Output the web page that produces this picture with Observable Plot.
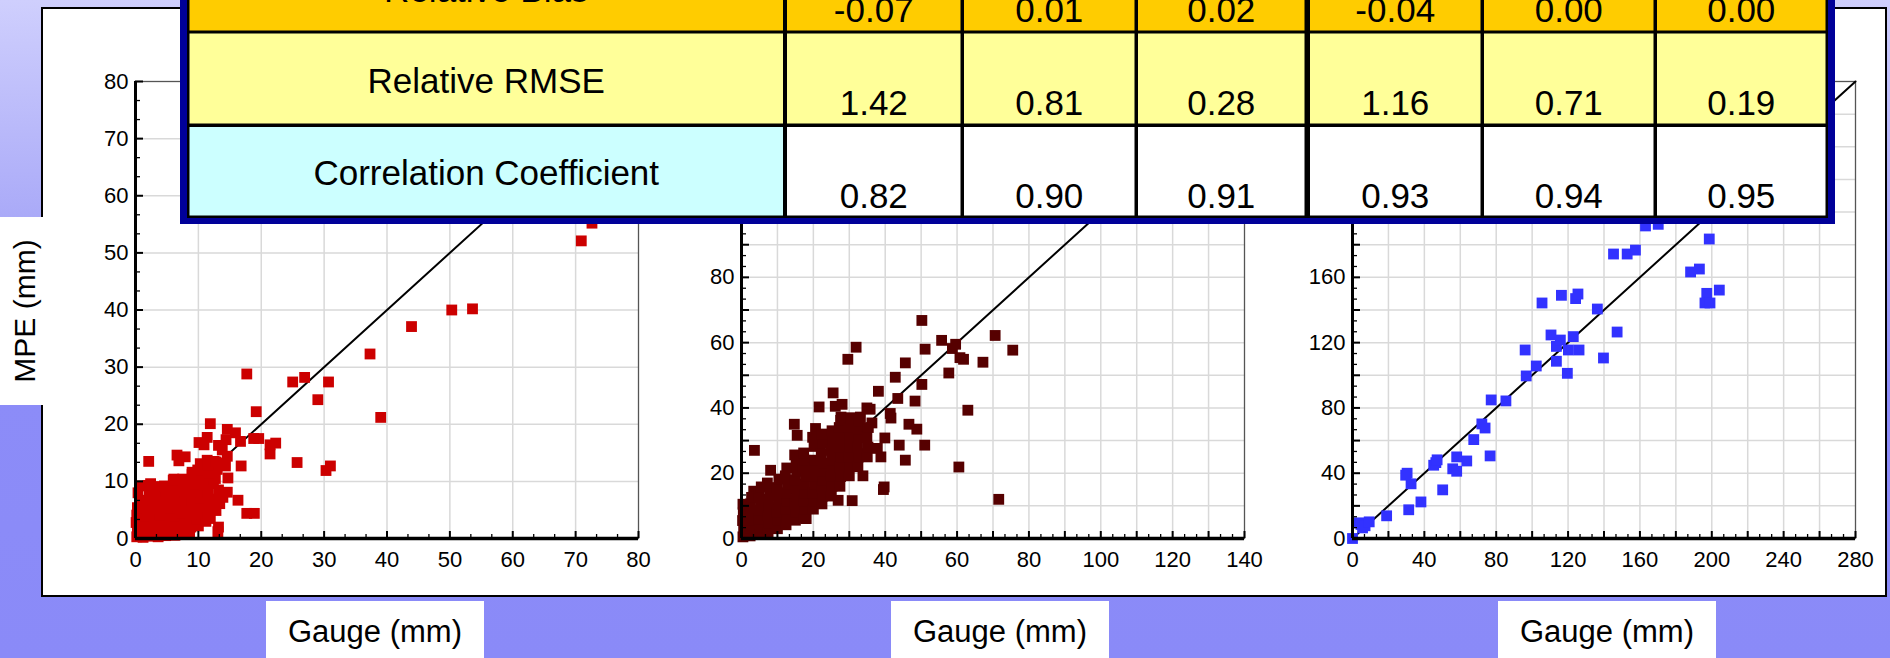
<!DOCTYPE html>
<html>
<head>
<meta charset="utf-8">
<script src="https://cdn.jsdelivr.net/npm/d3@7"></script>
<script src="https://cdn.jsdelivr.net/npm/@observablehq/plot@0.6"></script>
<style>
html,body{margin:0;padding:0;}
body{width:1890px;height:658px;overflow:hidden;font-family:"Liberation Sans",Arial,sans-serif;}
#root{position:relative;width:1890px;height:658px;overflow:hidden;
  background:linear-gradient(180deg,#cfcffd 0%,#aaaaf8 33%,#8c8cf8 60%,#8a8af8 100%);}
.layer{position:absolute;left:0;top:0;}
.plotbox{position:absolute;}
.plotbox svg{display:block;max-width:none;}
</style>
</head>
<body>
<div id="root"></div>
<script>
// ---------------- data ----------------
const statLabels = ["Relative Bias", "Relative RMSE", "Correlation Coefficient"];
const biasValues = ["-0.07", "0.01", "0.02", "-0.04", "0.00", "0.00"];
const rmseValues = ["1.42", "0.81", "0.28", "1.16", "0.71", "0.19"];
const corrValues = ["0.82", "0.90", "0.91", "0.93", "0.94", "0.95"];

const yAxisTitle = "MPE (mm)";
const xAxisTitle = "Gauge (mm)";

const ticks1 = [0, 10, 20, 30, 40, 50, 60, 70, 80];
const ticks2 = [0, 20, 40, 60, 80, 100, 120, 140];
const ticks3 = [0, 40, 80, 120, 160, 200, 240, 280];
const gridSteps = [10, 10, 20];
const pointColors = ["#cc0000", "#560000", "#3232ff"];

// Plot 1: [gauge, MPE]
const points1 = [
  [37.3,32.3],[39,21.2],[43.9,37.1],[50.3,40],[53.6,40.2],[70.9,52.1],[72.6,55.2],
  [17.7,28.8],[25,27.4],[26.9,28.2],[30.7,27.4],[29,24.3],[19.2,22.2],[25.7,13.3],[30.3,11.9],[31,12.7],
  [11.9,20.1],[14.6,19.1],[15.9,18.5],[11.4,17.7],[10.1,16.8],[10.9,16.4],[13.2,16.3],[16.7,17],[18.8,17.5],
  [19.6,17.5],[21.4,16.4],[22.3,16.7],[21.4,14.8],[14.4,17.3],[13.8,15.5],[14.6,14.4],[16.8,12.7],[14.3,12.7],
  [6.6,14.6],[7.9,14.3],[6.9,13.6],[2.1,13.5],[9.9,12],[11.4,13.7],[14.7,10.6],[16.3,6.7],[17.7,4.4],[18.9,4.4],
  [13.2,2],[13.1,1.2],[11.9,3.5],[2.4,9.6],[0.8,9.2],[6.1,10.4],[8.5,10.1],[12.7,10.5],[13.5,7.6],[13.4,6.1],
  [11.9,5],[9.5,2.7],[7.9,1.8],[6.3,0.6],[12.5,13.5],[10.5,12.8],[12,11.5],[9,11.2],
  [0.2,0.3],[1.2,0.2],[2.4,0.4],[3.6,0.3],[4.8,0.5],[6.2,0.6],[7.5,0.8],[8.6,0.9],
  [0.3,1.5],[1.5,1.4],[2.8,1.6],[4.0,1.5],[5.2,1.7],[6.4,1.6],[7.6,1.9],[8.8,2.0],[10.0,2.2],
  [0.1,2.8],[1.3,2.9],[2.5,2.7],[3.8,3.0],[5.1,2.8],[6.3,3.1],[7.4,2.9],[8.7,3.2],[9.8,3.4],[11.2,3.0],
  [0.2,4.1],[1.4,4.0],[2.7,4.3],[3.9,4.1],[5.0,4.2],[6.2,4.0],[7.5,4.4],[8.8,4.2],[10.1,4.6],[11.5,4.3],[12.8,4.9],
  [0.3,5.4],[1.6,5.5],[2.9,5.3],[4.2,5.6],[5.5,5.4],[6.7,5.7],[8.0,5.5],[9.2,5.8],[10.6,5.6],[12.1,5.9],
  [1.1,6.7],[2.4,6.8],[3.7,6.6],[5.0,6.9],[6.3,6.7],[7.6,7.0],[8.9,6.8],[10.3,7.1],[11.8,6.9],[13.9,7.2],
  [0.4,8.0],[2.2,8.1],[3.5,7.9],[4.9,8.2],[6.2,8.0],[7.4,8.3],[8.7,8.1],[10.1,8.4],[11.5,8.2],[13.2,8.5],[14.6,8.1],
  [2.0,9.3],[3.4,9.1],[4.6,9.2],[5.8,9.0],[7.0,9.4],[8.4,9.2],[9.6,9.5],[11.0,9.3],[12.4,9.6],
  [6.0,10.2],[7.5,10.4],[9.2,10.6],[10.8,10.3],[12.0,10.9],
  [9.0,11.6],[10.4,11.9],[11.7,11.5],[13.0,12.1],
  [10.3,13.1],[11.5,12.9],[12.8,13.4],[14.2,13.2]
];

// Plot 2: [gauge, MPE]
const points2 = [
  [50.2,66.8],[55.7,60.7],[59.6,59.5],[58.7,58.2],[51.1,58],[70.6,62.2],[75.5,57.7],[60.8,55.4],[61.8,54.9],
  [67.2,54],[57.7,50.7],[45.6,53.8],[42.8,49.4],[50.2,47.2],[38.1,45.1],[43.5,42.9],[48.3,42.1],[63,39.3],
  [29.6,54.9],[31.9,58.6],[25.5,44.6],[21.6,40.3],[26.1,40.5],[28,41.1],[34.9,40],[35.8,39.6],[41.4,38.3],
  [41.6,36.9],[46.6,35],[48.8,33.5],[39.9,30.8],[43.9,28.6],[51,28.6],[37.8,27.6],[38.8,25],[45.6,24],
  [60.5,21.9],[39.5,15],[39.7,15.8],[30.8,11.6],[71.6,12],[33.8,19.2],[14.7,35],[15.5,31.6],[3.6,27],
  [8.1,20.9],[3.4,14.5],[18,6.1],[26.9,11.7],[36.3,35.4],[33.1,37.2],[27.7,37.2],[20.6,33.7],[21.9,28.6],
  [23.8,31.1],[28.6,34.2],[32.1,28.1],[34.9,31.1],[34,26],
  [0.4,0.5],[0.6,3],[0.3,5.5],[0.5,8],[0.4,10.5],
  [2.4,0.8],[2.6,3.2],[2.3,5.6],[2.7,8.2],[2.5,10.6],[2.8,12.6],
  [5,1.2],[5.2,3.6],[4.9,6],[5.1,8.6],[5.3,11],[4.8,13.4],[5.5,15.8],
  [7.4,2],[7.6,4.6],[7.3,7],[7.7,9.6],[7.5,12],[7.8,14.4],[7.2,17],
  [10,3],[10.2,5.6],[9.8,8],[10.3,10.4],[10.1,13],[9.9,15.6],[10.4,18.2],
  [12.4,4.2],[12.6,6.6],[12.3,9],[12.7,11.6],[12.5,14],[12.8,16.6],[12.2,19.2],[12.6,21.6],
  [15,5.6],[15.2,8],[14.8,10.6],[15.3,13],[15.1,15.6],[14.9,18],[15.4,20.6],[15.2,23.2],[14.8,25.6],
  [17.4,6.2],[17.6,9],[17.3,11.6],[17.7,14],[17.5,16.6],[17.8,19],[17.2,21.6],[17.6,24],[17.3,26.2],
  [20,9],[20.2,11.6],[19.8,14],[20.3,16.6],[20.1,19],[19.9,21.6],[20.4,24],[20.2,28.2],[19.8,31],
  [22.4,10.6],[22.6,13],[22.3,15.6],[22.7,18],[22.5,20.6],[22.8,23],[22.2,26],[22.6,29.2],[22.4,32],
  [25,13],[25.2,16],[24.8,19],[25.3,21.6],[25.1,24],[24.9,27],[25.4,30],[25.2,33],
  [27.4,16],[27.6,19],[27.3,22],[27.7,25],[27.5,28],[27.8,31],[27.2,34],[27.6,36.2],
  [30,19.2],[30.2,22],[29.8,25],[30.3,28],[30.1,31],[29.9,34],[30.4,37],
  [32.4,22],[32.6,25],[32.3,28.2],[32.7,31],[32.5,33.6],[32.8,36],
  [35,25],[35.2,28],[34.8,31],[35.3,34]
];

// Plot 3: [gauge, MPE]
const points3 = [
  [0,0],[3.7,9.6],[4.7,8.6],[5.6,6.5],[7.0,7.8],[9.3,10.2],[19,13.9],
  [29.6,38.8],[30.4,40.0],[32.6,33.5],[31.3,17.6],[38.1,22.4],[50.2,29.8],
  [45.2,44.9],[46.4,46.5],[47.1,48.2],[55.8,42.7],[58,41.2],[58,50],[63.6,47.5],
  [67.5,60.6],[72,70.2],[73.8,67.7],[76.6,50.6],[77.2,84.9],[85.4,84.3],
  [96.7,99.6],[96.1,115.5],[102.3,105.7],[110.5,124.7],[113.5,108.6],[113.5,117.7],[115.7,121.6],
  [120.2,115.5],[119.6,101.2],[122.9,123.7],[126.1,115.5],[139.7,110.6],[136.3,140.6],[147.3,126.5],
  [105.5,144.3],[116.3,149],[124.2,147],[125.5,149.8],[145.3,174.3],[152.9,174.3],[157.5,176.7],
  [163.1,191.5],[170.2,192.5],[198.6,183.5],[188.2,163.3],[193.1,165.1],[197.2,150.2],[204.2,152.2],
  [196.2,144.3],[199,144.3]
];

// ---------------- layout ----------------
const root = document.getElementById("root");
const FONT = "'Liberation Sans', Arial, sans-serif";

// background layer: panel, label boxes
const bg = d3.select(root).append("svg").attr("class", "layer")
  .attr("width", 1890).attr("height", 658);
bg.append("rect").attr("x", 42).attr("y", 8).attr("width", 1844).attr("height", 588)
  .attr("fill", "#fff").attr("stroke", "#000").attr("stroke-width", 2);
bg.append("rect").attr("x", 0).attr("y", 217).attr("width", 70).attr("height", 188).attr("fill", "#fff");
bg.append("text").attr("transform", "translate(35,311) rotate(-90)")
  .attr("text-anchor", "middle").attr("font-family", FONT).attr("font-size", 30).attr("fill", "#000")
  .text(yAxisTitle);
const gaugeBoxes = [[266, 218], [891, 218], [1498, 218]];
gaugeBoxes.forEach(([x, w]) => {
  bg.append("rect").attr("x", x).attr("y", 601).attr("width", w).attr("height", 60).attr("fill", "#fff");
  bg.append("text").attr("x", x + w / 2).attr("y", 642).attr("text-anchor", "middle")
    .attr("font-family", FONT).attr("font-size", 31).attr("fill", "#000").text(xAxisTitle);
});

// scatter plots
const W = 503, H = 457, mL = 60, mR = 30, mT = 12, mB = 45;
const plotLeft = [135, 741, 1352], plotTop = 81;

function scatter(points, color, ticks, gridStep) {
  const max = ticks[ticks.length - 1];
  const upx = max / W, upy = max / H;
  const major = d3.range(0, max + gridStep / 2, gridStep);
  const minorStep = gridStep / 3;
  const minor = d3.range(0, max + minorStep / 2, minorStep).filter((v, i) => i % 3 !== 0);
  const inner = major.filter(v => v > 0 && v < max);
  const marks = [
    Plot.ruleX(inner, {stroke: "#d9d9d9", strokeWidth: 1.5}),
    Plot.ruleY(inner, {stroke: "#d9d9d9", strokeWidth: 1.5}),
    Plot.frame({stroke: "#555", strokeWidth: 1.3}),
    Plot.line([[0, 0], [max, max]], {stroke: "#000", strokeWidth: 2}),
    Plot.dot(points, {x: d => d[0], y: d => d[1], symbol: "square", r: 6.1, fill: color}),
    Plot.ruleY([0], {stroke: "#000", strokeWidth: 3.5}),
    Plot.ruleX([0], {stroke: "#000", strokeWidth: 3}),
    Plot.ruleX(major, {y1: 0, y2: 7 * upy, stroke: "#000", strokeWidth: 2}),
    Plot.ruleX(minor, {y1: 0, y2: 4 * upy, stroke: "#000", strokeWidth: 1.3}),
    Plot.ruleY(major, {x1: 0, x2: 8 * upx, stroke: "#000", strokeWidth: 2}),
    Plot.ruleY(minor, {x1: 0, x2: 5 * upx, stroke: "#000", strokeWidth: 1.3})
  ];
  const opts = {
    width: mL + W + mR, height: mT + H + mB,
    marginLeft: mL, marginRight: mR, marginTop: mT, marginBottom: mB,
    x: {domain: [0, max], label: null},
    y: {domain: [0, max], label: null},
    style: {background: "transparent", fontFamily: FONT, fontSize: "22px", color: "#000", overflow: "visible"},
    marks
  };
  if (Plot.axisX) {
    marks.push(Plot.axisX(ticks, {tickSize: 0, tickPadding: 13, fontSize: 22, label: null}));
    marks.push(Plot.axisY(ticks, {tickSize: 0, tickPadding: 7, fontSize: 22, label: null}));
  } else {
    Object.assign(opts.x, {ticks, tickSize: 0, tickPadding: 13});
    Object.assign(opts.y, {ticks, tickSize: 0, tickPadding: 7});
  }
  return Plot.plot(opts);
}

const allPoints = [points1, points2, points3];
const allTicks = [ticks1, ticks2, ticks3];
allPoints.forEach((pts, i) => {
  const div = document.createElement("div");
  div.className = "plotbox";
  div.style.left = (plotLeft[i] - mL) + "px";
  div.style.top = (plotTop - mT) + "px";
  div.appendChild(scatter(pts, pointColors[i], allTicks[i], gridSteps[i]));
  root.appendChild(div);
});

// statistics table on top
const tb = d3.select(root).append("svg").attr("class", "layer")
  .attr("width", 1890).attr("height", 658).style("pointer-events", "none");
tb.append("rect").attr("x", 180).attr("y", -80).attr("width", 1655).attr("height", 304).attr("fill", "#000099");
tb.append("rect").attr("x", 187).attr("y", -80).attr("width", 1641).attr("height", 298).attr("fill", "#000");
const cellX = [[189.5, 783], [787, 960.5], [964, 1134.5], [1138, 1304.5], [1310, 1480.5], [1484, 1653.5], [1657, 1825.5]];
const cellY = [[-80, 30.5], [33.5, 123.5], [127, 215.5]];
const rowFill = ["#ffcc00", "#ffff99", "#ffffff"];
const labelFill = ["#ffcc00", "#ffff99", "#ccffff"];
const labelBase = [2, 93, 185];
const valueBase = [22, 115, 208];
const rows = [biasValues, rmseValues, corrValues];
rows.forEach((vals, r) => {
  const [y0, y1] = cellY[r];
  cellX.forEach(([x0, x1], c) => {
    tb.append("rect").attr("x", x0).attr("y", y0).attr("width", x1 - x0).attr("height", y1 - y0)
      .attr("fill", c === 0 ? labelFill[r] : rowFill[r]);
  });
  tb.append("text").attr("x", (cellX[0][0] + cellX[0][1]) / 2).attr("y", labelBase[r])
    .attr("text-anchor", "middle").attr("font-family", FONT).attr("font-size", 35).attr("fill", "#000")
    .text(statLabels[r]);
  vals.forEach((v, c) => {
    const [x0, x1] = cellX[c + 1];
    tb.append("text").attr("x", (x0 + x1) / 2).attr("y", valueBase[r])
      .attr("text-anchor", "middle").attr("font-family", FONT).attr("font-size", 35).attr("fill", "#000")
      .text(v);
  });
});
</script>
</body>
</html>
